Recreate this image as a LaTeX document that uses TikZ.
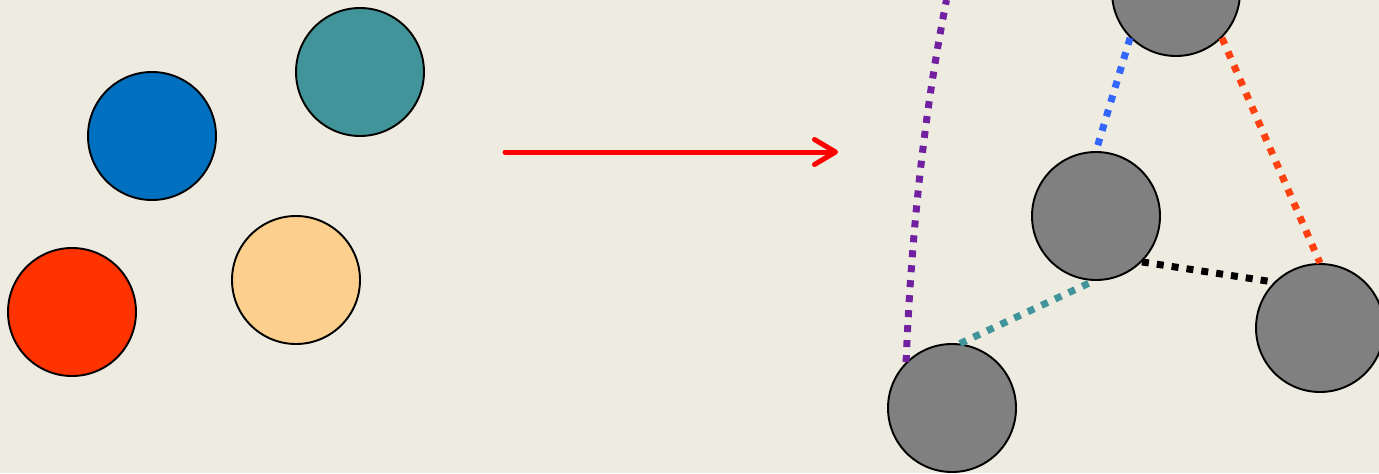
\documentclass[tikz,border=0pt]{standalone}
\usepackage{xcolor}
\usepackage{tikz}
\usetikzlibrary{arrows.meta, positioning}
\definecolor{bgcream}{RGB}{238, 235, 224}
\definecolor{dotblue}{RGB}{0, 112, 192}
\definecolor{dotteal}{RGB}{65, 149, 154}
\definecolor{dotred}{RGB}{255, 51, 0}
\definecolor{dotpeach}{RGB}{252, 208, 140}
\definecolor{linkblue}{RGB}{51, 102, 255}
\definecolor{linkorange}{RGB}{255, 64, 16}
\definecolor{linkpurple}{RGB}{112, 32, 160}

\begin{document}
\begin{tikzpicture}[
  ball/.style={circle, draw=black, line width=1.1pt, minimum size=2.56cm, inner sep=0pt},
  link/.style={line width=0.14cm, dash pattern=on 0.14cm off 0.16cm},
]
  % background and frame
  \fill[bgcream] (0,0) rectangle (27.58,9.46);
  \useasboundingbox (0,0) rectangle (27.58,9.46);
  \clip (0,0) rectangle (27.58,9.46);

  % loose points on the left
  \node[ball, fill=dotblue] (blue) at (3.04,6.74) {};
  \node[ball, fill=dotteal] (teal) at (7.2,8.02) {};
  \node[ball, fill=dotred] (red) at (1.44,3.22) {};
  \node[ball, fill=dotpeach] (peach) at (5.92,3.86) {};

  % arrow
  \coordinate (from) at (10.1,6.42);
  \coordinate (to) at (16.76,6.42);
  \draw[red, line width=0.1cm, line cap=round,
    -{Straight Barb[length=0.42cm, width=0.5cm, round]}] (from) -- (to);

  % graph on the right
  \node[ball, fill=gray] (top) at (23.52,9.62) {};
  \node[ball, fill=gray] (mid) at (21.92,5.14) {};
  \node[ball, fill=gray] (right) at (26.4,2.9) {};
  \node[ball, fill=gray] (bot) at (19.04,1.3) {};
  \coordinate (far) at (18.93,9.46);

  % links
  \draw[link, linkblue] (top.225) -- (mid.north);
  \draw[link, linkorange] (top.315) -- (right.north);
  \draw[link, black] (mid.315) -- (right.135);
  \draw[link, dotteal] (bot.83) -- (mid.268);
  \draw[link, linkpurple] (bot.135) .. controls (18.23,4.86) and (18.49,7.24) .. (far);
\end{tikzpicture}
\end{document}
